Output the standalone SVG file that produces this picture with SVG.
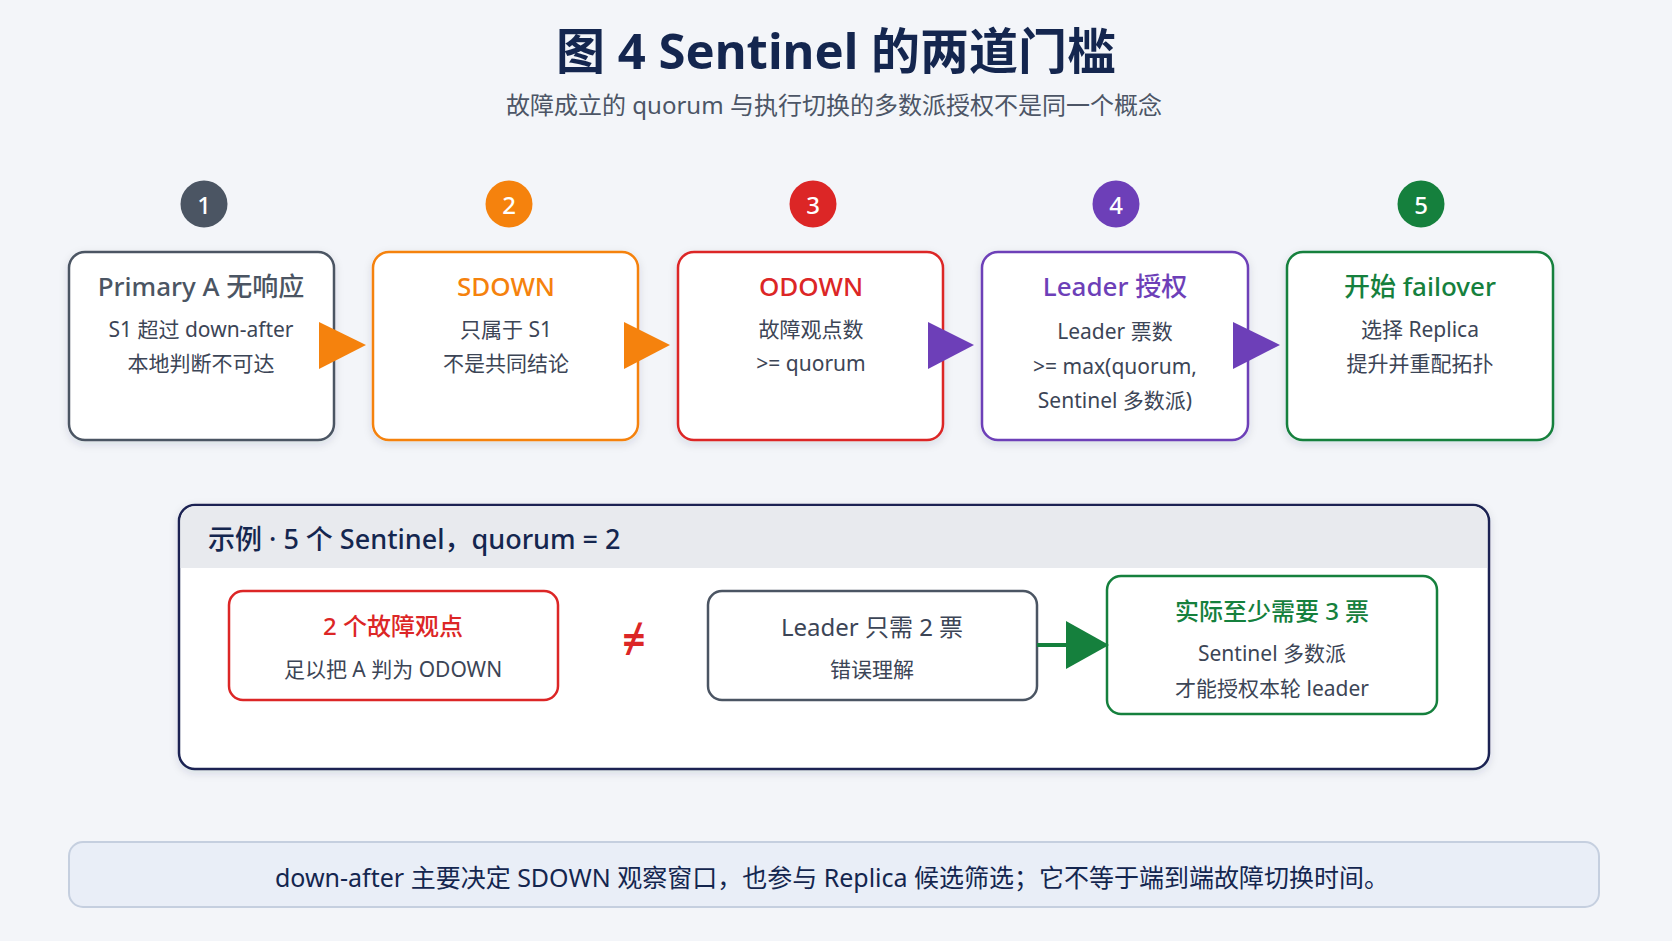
<svg xmlns="http://www.w3.org/2000/svg" width="1672" height="941" viewBox="0 0 1672 941">
<defs>
<filter id="sh" x="-10%" y="-10%" width="120%" height="130%"><feDropShadow dx="0" dy="3" stdDeviation="4" flood-color="#1e2a4a" flood-opacity="0.12"/></filter>
<style>
text{font-family:"Noto Sans","Noto Sans CJK SC",sans-serif;text-anchor:middle;dominant-baseline:central}
.box{fill:#fff;stroke-width:2.5}
.t{font-size:26px;font-weight:500}
.b{font-size:21px;fill:#3c4556}
.num{font-size:24px;fill:#fff;font-weight:500}
</style>
</defs>
<rect width="1672" height="941" fill="#f3f5f9"/>
<text x="836" y="50" font-size="49" font-weight="700" fill="#14264f">图 4 Sentinel 的两道门槛</text>
<text x="834" y="104" font-size="24" fill="#4c5566">故障成立的 quorum 与执行切换的多数派授权不是同一个概念</text>

<g id="n1"><circle cx="204" cy="204" r="23.5" fill="#4b5563"/><text class="num" x="204" y="204">1</text>
<rect class="box" x="69" y="252" width="265" height="188" rx="16" stroke="#4b5563" filter="url(#sh)"/>
<text class="t" x="201" y="286" fill="#4b5563">Primary A 无响应</text>
<text class="b" x="201" y="329">S1 超过 down-after</text><text class="b" x="201" y="363">本地判断不可达</text></g>

<g id="n2"><circle cx="509" cy="204" r="23.5" fill="#f5820d"/><text class="num" x="509" y="204">2</text>
<rect class="box" x="373" y="252" width="265" height="188" rx="16" stroke="#f5820d" filter="url(#sh)"/>
<text class="t" x="506" y="286" fill="#f5820d">SDOWN</text>
<text class="b" x="506" y="329">只属于 S1</text><text class="b" x="506" y="363">不是共同结论</text></g>

<g id="n3"><circle cx="813" cy="204" r="23.5" fill="#dc2626"/><text class="num" x="813" y="204">3</text>
<rect class="box" x="678" y="252" width="265" height="188" rx="16" stroke="#dc2626" filter="url(#sh)"/>
<text class="t" x="811" y="286" fill="#dc2626">ODOWN</text>
<text class="b" x="811" y="329">故障观点数</text><text class="b" x="811" y="363">&gt;= quorum</text></g>

<g id="n4"><circle cx="1116" cy="204" r="23.5" fill="#6d3fb8"/><text class="num" x="1116" y="204">4</text>
<rect class="box" x="982" y="252" width="266" height="188" rx="16" stroke="#6d3fb8" filter="url(#sh)"/>
<text class="t" x="1115" y="286" fill="#6d3fb8">Leader 授权</text>
<text class="b" x="1115" y="331">Leader 票数</text><text class="b" x="1115" y="366">&gt;= max(quorum,</text><text class="b" x="1115" y="400">Sentinel 多数派)</text></g>

<g id="n5"><circle cx="1421" cy="204" r="23.5" fill="#15803d"/><text class="num" x="1421" y="204">5</text>
<rect class="box" x="1287" y="252" width="266" height="188" rx="16" stroke="#15803d" filter="url(#sh)"/>
<text class="t" x="1420" y="286" fill="#15803d">开始 failover</text>
<text class="b" x="1420" y="329">选择 Replica</text><text class="b" x="1420" y="363">提升并重配拓扑</text></g>

<g id="example">
<rect x="179" y="505" width="1310" height="264" rx="16" fill="#fff" stroke="#1a2452" stroke-width="2.5" filter="url(#sh)"/>
<path d="M180.5 568 V521 a15 15 0 0 1 15 -15 H1472 a15 15 0 0 1 15 15 V568 Z" fill="#e8eaee"/>
<text x="208" y="538" font-size="27" font-weight="500" fill="#14264f" style="text-anchor:start">示例 · 5 个 Sentinel，quorum = 2</text>
</g>
<g id="e1"><rect class="box" x="229" y="591" width="329" height="109" rx="14" stroke="#dc2626"/>
<text x="393" y="625" font-size="24" font-weight="500" fill="#dc2626">2 个故障观点</text><text class="b" x="393" y="669" font-size="20">足以把 A 判为 ODOWN</text></g>
<g id="neq"><text x="634" y="638" font-size="40" font-weight="700" fill="#dc2626">≠</text></g>
<g id="e2"><rect class="box" x="708" y="591" width="329" height="109" rx="14" stroke="#4b5563"/>
<text x="872" y="626" font-size="24" fill="#3c4556">Leader 只需 2 票</text><text class="b" x="872" y="669" font-size="20">错误理解</text></g>
<g id="e3"><rect class="box" x="1107" y="576" width="330" height="138" rx="14" stroke="#15803d"/>
<text x="1272" y="610" font-size="24" font-weight="500" fill="#15803d">实际至少需要 3 票</text><text class="b" x="1272" y="653" font-size="20">Sentinel 多数派</text><text class="b" x="1272" y="688" font-size="20">才能授权本轮 leader</text></g>

<g id="connectors">
<polygon points="319,322 366,345 319,369" fill="#f5820d"/>
<polygon points="624,322 670,345 624,369" fill="#f5820d"/>
<polygon points="928,322 974,345 928,369" fill="#6d3fb8"/>
<polygon points="1233,322 1280,345 1233,369" fill="#6d3fb8"/>
<line x1="1037" y1="645" x2="1068" y2="645" stroke="#15803d" stroke-width="4"/>
<polygon points="1066,621 1109,645 1066,669" fill="#15803d"/>
</g>

<g id="note">
<rect x="69" y="842" width="1530" height="65" rx="14" fill="#e9eef7" stroke="#c5cfdf" stroke-width="2"/>
<text x="832" y="877" font-size="25" fill="#14264f">down-after 主要决定 SDOWN 观察窗口，也参与 Replica 候选筛选；它不等于端到端故障切换时间。</text>
</g>
</svg>
